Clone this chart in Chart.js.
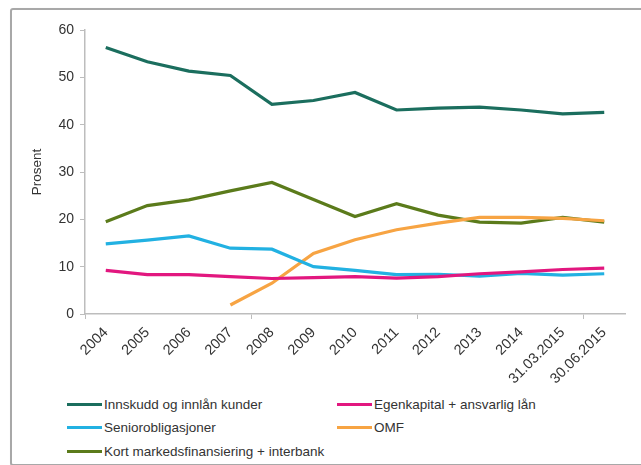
<!DOCTYPE html>
<html>
  <head>
    <meta charset="UTF-8" />
    <title>Finansieringskilder</title>
    <style>
      body {
        margin: 0;
        padding: 0;
        width: 641px;
        height: 465px;
        overflow: hidden;
        background: #fff;
        font-family: "Liberation Sans", Arial, sans-serif;
        position: relative;
      }
      .frame {
        position: absolute;
        left: 10px;
        top: 8px;
        width: 700px;
        height: 454px;
        border: 2px solid #a8a8a8;
        border-radius: 3px;
        box-shadow: 1px 1px 2px rgba(0, 0, 0, 0.15);
      }
      #chart {
        position: absolute;
        left: 12px;
        top: 10px;
      }
      .legend {
        position: absolute;
        left: 14px;
        top: 383px;
        width: 615px;
        height: 76px;
        background: #fff;
      }
      .legend-item {
        position: absolute;
        display: flex;
        align-items: center;
        font-size: 13.5px;
        color: #333;
        white-space: nowrap;
      }
      .legend-item span.line {
        display: inline-block;
        width: 35px;
        height: 3px;
        margin-right: 2px;
      }
    </style>
  </head>
  <body>
    <div class="frame"></div>
    <canvas id="chart" width="629" height="400"></canvas>
    <div class="legend" id="legend"></div>

    <script src="https://cdn.jsdelivr.net/npm/chart.js"></script>
    <script>
      const labels = ["2004", "2005", "2006", "2007", "2008", "2009", "2010", "2011", "2012", "2013", "2014", "31.03.2015", "30.06.2015"];

      const innskudd = [56.3, 53.3, 51.3, 50.4, 44.3, 45.1, 46.8, 43.1, 43.5, 43.7, 43.1, 42.3, 42.6];
      const egenkapital = [9.2, 8.3, 8.3, 7.9, 7.5, 7.7, 7.9, 7.6, 7.9, 8.5, 8.9, 9.4, 9.7];
      const senior = [14.8, 15.6, 16.5, 13.9, 13.7, 10.0, 9.2, 8.3, 8.4, 8.0, 8.6, 8.2, 8.5];
      const omf = [null, null, null, 1.9, 6.5, 12.8, 15.7, 17.8, 19.2, 20.4, 20.4, 20.2, 19.7];
      const kort = [19.5, 22.9, 24.1, 26.0, 27.8, 24.2, 20.6, 23.3, 20.9, 19.4, 19.2, 20.4, 19.4];

      const yTicks = [0, 10, 20, 30, 40, 50, 60];

      function line(label, data, color) {
        return {
          label: label,
          data: data,
          borderColor: color,
          backgroundColor: color,
          borderWidth: 3.2,
          pointRadius: 0,
          tension: 0,
          fill: false,
        };
      }

      const ctx = document.getElementById("chart");
      const chart = new Chart(ctx, {
        type: "line",
        data: {
          labels: labels,
          datasets: [
            line("Innskudd og innlån kunder", innskudd, "#1b6e5e"),
            line("Egenkapital + ansvarlig lån", egenkapital, "#e2177f"),
            line("Seniorobligasjoner", senior, "#22b1e2"),
            line("OMF", omf, "#f7a443"),
            line("Kort markedsfinansiering + interbank", kort, "#5b7b1b"),
          ],
        },
        options: {
          responsive: false,
          animation: false,
          layout: { padding: { top: 20, right: 16, left: 0, bottom: 0 } },
          plugins: {
            legend: { display: false },
            tooltip: { enabled: false },
          },
          scales: {
            x: {
              offset: true,
              afterFit: (s) => { s.height = 96; },
              border: { color: "#bdbdbd", width: 1.5 },
              grid: {
                offset: true,
                drawOnChartArea: false,
                drawTicks: true,
                tickLength: 5,
                color: (c) => (c.index % 4 === 0 ? "#bdbdbd" : "rgba(0,0,0,0)"),
              },
              ticks: {
                color: "#333",
                font: { size: 14.5, family: "'Liberation Sans', Arial" },
                minRotation: 45,
                maxRotation: 45,
                autoSkip: false,
                padding: 5,
              },
            },
            y: {
              min: 0,
              max: 60,
              afterFit: (s) => { s.width = 73; },
              afterBuildTicks: (s) => { s.ticks = yTicks.map((v) => ({ value: v })); },
              border: { color: "#bdbdbd", width: 1.5 },
              grid: {
                drawOnChartArea: false,
                drawTicks: true,
                tickLength: 5,
                color: "#bdbdbd",
              },
              ticks: {
                color: "#333",
                padding: 6,
                font: { size: 14, family: "'Liberation Sans', Arial" },
              },
              title: {
                display: true,
                text: "Prosent",
                color: "#333",
                font: { size: 13.5, family: "'Liberation Sans', Arial" },
                padding: { top: 17, bottom: 0 },
              },
            },
          },
        },
      });

      // legend in two columns like the original
      const legend = document.getElementById("legend");
      const colX = [53, 323];
      const rowY = [14, 37, 61];
      chart.data.datasets.forEach((ds, i) => {
        const item = document.createElement("div");
        item.className = "legend-item";
        item.style.left = colX[i % 2] + "px";
        item.style.top = rowY[Math.floor(i / 2)] + "px";
        item.innerHTML = '<span class="line" style="background:' + ds.borderColor + '"></span>' + ds.label;
        legend.appendChild(item);
      });
    </script>
  </body>
</html>
